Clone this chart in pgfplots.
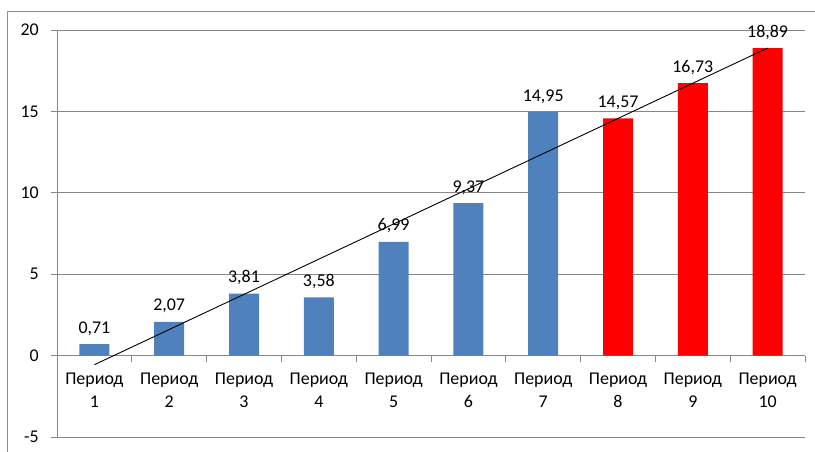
\documentclass[border=0pt]{standalone}
\usepackage{fontspec}
\setmainfont{Carlito}
\usepackage{pgfplots}
\pgfplotsset{compat=1.18}
\definecolor{barblue}{HTML}{4F81BD}
\definecolor{barred}{HTML}{FF0000}
\definecolor{gridgray}{HTML}{878787}
\definecolor{framegray}{HTML}{8C8C8C}
\begin{document}
\fontsize{18}{21}\selectfont
\begin{tikzpicture}[x=1bp,y=1bp]
\useasboundingbox (0,0) rectangle (815,452);
% outer chart frame, running past the right and bottom edges
\begin{scope}
\clip (0,0) rectangle (815,452);
\draw[framegray, line width=1bp] (7.5,-30) rectangle (850,440.5);
\end{scope}
\begin{axis}[
  at={(57bp,15bp)}, anchor=south west,
  scale only axis, width=748bp, height=407bp,
  xmin=0.5, xmax=10.5, ymin=-5, ymax=20,
  axis x line=middle, axis y line=left,
  axis line style={gridgray, line width=0.8bp, -},
  hide obscured x ticks=false, hide obscured y ticks=false,
  ytick={-5,0,5,10,15,20},
  ymajorgrids, grid style={gridgray, line width=0.8bp},
  xtick={1,...,10},
  xticklabels={{Период\\1},{Период\\2},{Период\\3},{Период\\4},{Период\\5},
               {Период\\6},{Период\\7},{Период\\8},{Период\\9},{Период\\10}},
  major x tick style={draw=none},
  minor xtick={0.5,1.5,...,10.5},
  minor tick length=6bp, major tick length=6bp,
  tick align=outside,
  tick style={gridgray, line width=0.8bp},
  tick label style={font=\fontsize{18}{21}\selectfont, text=black},
  xticklabel style={align=center, anchor=north, inner sep=0pt, yshift=-11bp,
                    font=\fontsize{18}{23}\selectfont},
  yticklabel style={anchor=east, inner sep=0pt, xshift=-12bp},
  /pgf/number format/assume math mode=true,
  point meta=y,
  nodes near coords={\pgfmathprintnumber[fixed, fixed zerofill, precision=2, use comma, assume math mode=true]{\pgfplotspointmeta}},
  nodes near coords style={anchor=base, inner sep=0pt, yshift=11bp, font=\fontsize{18}{21}\selectfont, text=black},
]
% measured periods
\addplot[ybar, bar width=30bp, bar shift=0pt, fill=barblue, draw=none]
  coordinates {(1,0.71) (2,2.07) (3,3.81) (4,3.58) (5,6.99) (6,9.37) (7,14.95)};
% forecast periods
\addplot[ybar, bar width=30bp, bar shift=0pt, fill=barred, draw=none]
  coordinates {(8,14.57) (9,16.73) (10,18.89)};
% linear trend over all ten periods
\addplot[black, line width=0.9bp, nodes near coords={}, no markers]
  coordinates {(1,-0.56) (10,18.89)};
\end{axis}
\end{tikzpicture}
\end{document}
